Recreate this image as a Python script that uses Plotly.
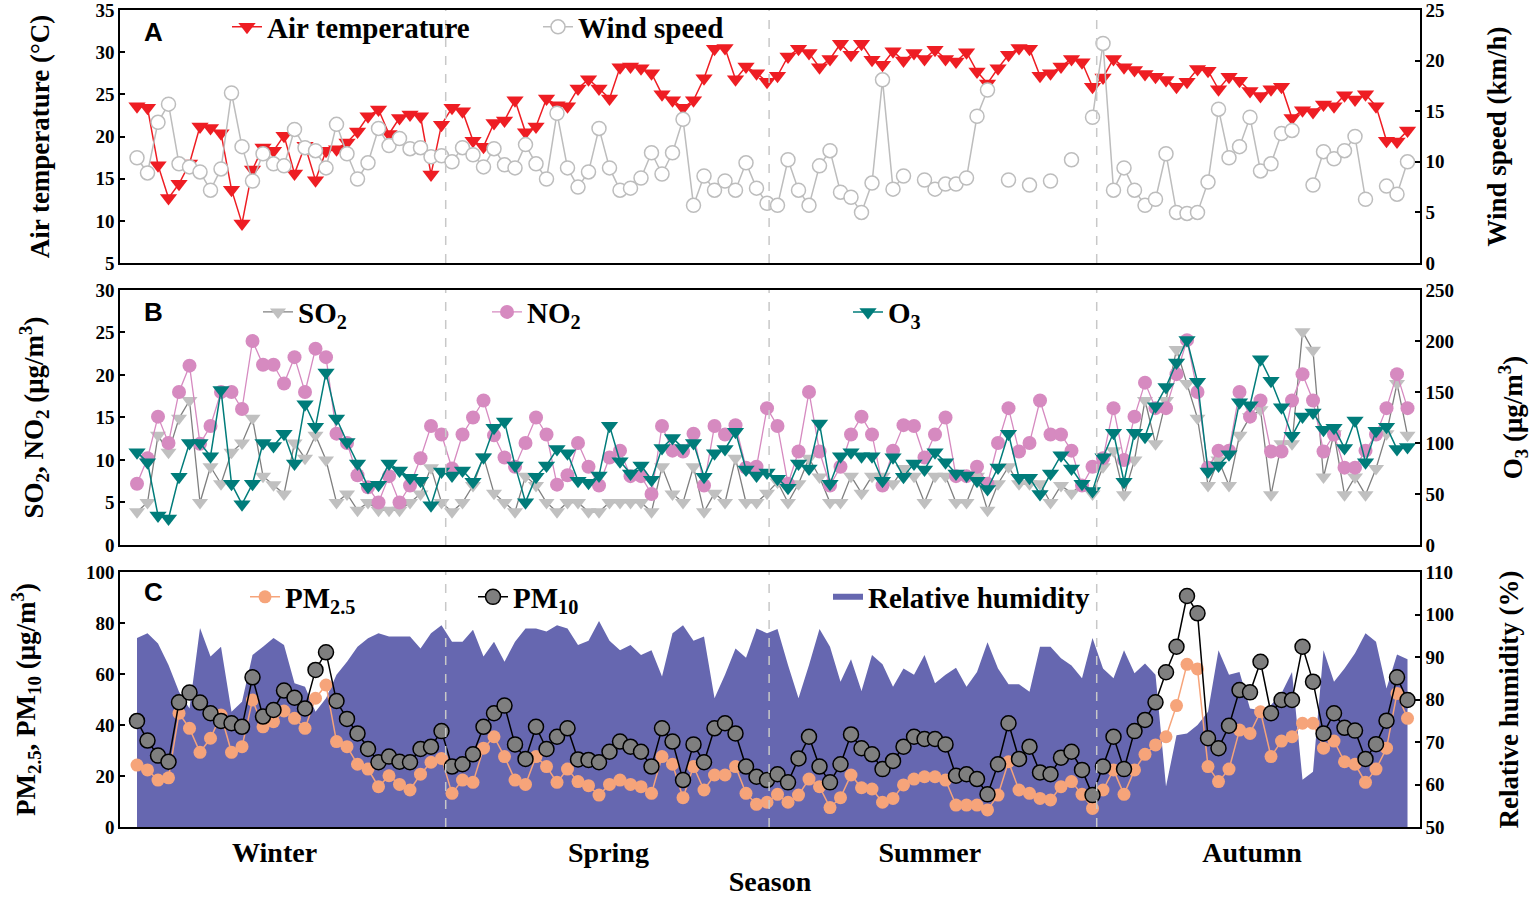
import plotly.graph_objects as go

# ---------------- data ----------------
day_index = list(range(122))

air_temperature = [
    23.6, 23.4, 16.6, 12.7, 14.4, 16.8, 21.2, 21.0, 20.4, 13.7, 9.7, 16.1, 18.7, 18.3, 20.1, 15.6, 18.9, 14.8, 18.3, 18.5,
    19.3, 20.6, 22.4, 23.2, 20.3, 22.2, 22.6, 22.4, 15.5, 21.4,
    23.4, 23.0, 19.5, 18.8, 21.6, 21.9, 24.3, 20.5, 21.2, 24.5, 23.7, 23.6, 25.7, 26.8, 25.7, 24.5, 28.2, 28.3, 28.1, 27.5,
    25.0, 24.3, 23.4, 24.3, 26.9, 30.4, 30.5, 26.8, 28.3, 27.5,
    26.5, 27.2, 29.5, 30.4, 29.9, 28.2, 29.2, 31.0, 29.7, 31.0, 29.1, 28.5, 30.1, 29.0, 29.9, 29.2, 30.3, 29.2, 28.9, 30.0,
    27.7, 26.3, 28.1, 29.7, 30.5, 30.4, 27.2, 27.5, 28.3, 29.2, 28.8,
    25.9, 27.0, 29.2, 28.2, 27.9, 27.4, 27.1, 26.7, 25.9, 26.5, 28.0, 27.8, 25.6, 27.1, 26.6, 25.4, 24.8, 25.6, 25.9, 22.2,
    23.1, 22.9, 23.8, 23.6, 24.9, 24.4, 25.0, 23.6, 19.5, 19.4, 20.7,
]

wind_speed = [
    10.4, 8.9, 13.9, 15.7, 9.8, 9.5, 9.0, 7.2, 9.3, 16.8, 11.5, 8.1, 10.8, 9.8, 9.6, 13.2, 11.4, 11.1, 9.4, 13.7,
    10.8, 8.3, 9.9, 13.3, 11.6, 12.3, 11.3, 11.4, 10.5, 10.6,
    10.0, 11.4, 10.7, 9.5, 11.3, 9.7, 9.4, 11.7, 9.8, 8.3, 14.8, 9.4, 7.5, 9.0, 13.3, 9.4, 7.2, 7.4, 8.4, 10.9,
    8.8, 10.9, 14.2, 5.7, 8.6, 7.2, 8.1, 7.2, 9.9, 7.4,
    5.9, 5.7, 10.2, 7.2, 5.7, 9.6, 11.1, 7.0, 6.5, 5.0, 7.9, 18.1, 7.3, 8.6, None, 8.2, 7.3, 7.8, 7.8, 8.4,
    14.5, 17.1, None, 8.2, None, 7.7, None, 8.1, None, 10.2, None,
    14.4, 21.7, 7.2, 9.4, 7.2, 5.7, 6.3, 10.8, 5.0, 4.9, 5.0, 8.0, 15.2, 10.4, 11.5, 14.4, 9.1, 9.8, 12.8, 13.1,
    None, 7.7, 11.0, 10.3, 11.1, 12.5, 6.3, None, 7.6, 6.8, 10.0,
]

so2 = [
    3.9, 5.0, 12.9, 10.9, 14.9, 17.0, 5.0, 9.2, 7.2, 10.9, 12.0, 14.9, 8.1, 7.1, 6.0, 12.0, 10.2, 12.9, 10.0, 5.0,
    6.0, 4.1, 5.0, 4.1, 4.1, 4.1, 5.0, 6.0, 9.1, 5.0,
    3.9, 5.0, 7.0, 10.4, 6.1, 5.0, 3.9, 8.1, 7.0, 5.0, 3.9, 5.0, 5.0, 3.9, 3.9, 5.0, 5.0, 5.0, 5.0, 3.9,
    9.2, 6.0, 5.0, 9.2, 3.9, 6.1, 5.0, 10.2, 5.0, 5.0,
    6.1, 7.4, 5.0, 7.2, 10.2, 8.0, 5.0, 5.0, 8.1, 6.1, 8.1, 8.1, 7.2, 9.0, 8.1, 5.0, 8.1, 8.1, 5.0, 5.0,
    8.1, 4.1, 7.2, 9.2, 7.2, 7.2, 7.2, 5.0, 7.0, 6.1, 7.2,
    6.0, 9.2, 11.1, 5.9, 10.0, 17.0, 11.9, 17.0, 23.0, 19.0, 14.9, 7.0, 10.0, 7.0, 12.9, 15.1, 15.9, 5.9, 11.9, 11.9,
    25.1, 22.9, 8.0, 13.1, 5.9, 8.0, 5.9, 9.0, 13.1, 19.0, 12.9,
]

no2 = [
    7.2, 10.2, 15.1, 12.0, 18.0, 21.1, 11.9, 14.0, 18.0, 18.0, 16.0, 24.0, 21.2, 21.2, 19.0, 22.1, 18.0, 23.1, 22.1, 13.1,
    12.0, 8.2, 6.8, 5.0, 8.1, 5.0, 7.0, 10.2, 14.0, 13.0,
    9.0, 13.0, 15.0, 17.0, 12.9, 10.3, 9.2, 12.0, 15.0, 13.0, 7.1, 8.2, 12.0, 9.2, 7.0, 10.3, 11.1, 8.1, 8.1, 6.0,
    14.0, 11.1, 11.0, 13.1, 7.0, 14.0, 13.0, 14.1, 9.1, 9.2,
    16.1, 14.0, 7.2, 11.0, 18.0, 11.0, 7.0, 9.2, 13.0, 15.1, 13.0, 7.0, 11.1, 14.1, 14.0, 10.3, 13.0, 15.0, 8.1, 8.1,
    9.2, 7.2, 12.0, 16.1, 11.0, 12.0, 17.0, 13.0, 13.0, 11.1, 7.0,
    9.2, 10.2, 16.1, 10.0, 15.1, 19.1, 16.1, 16.1, 20.1, 24.1, 18.0, 9.1, 11.1, 11.1, 18.0, 15.1, 17.0, 11.0, 11.0, 17.0,
    20.1, 17.0, 11.0, 13.0, 9.1, 9.1, 11.1, 13.0, 16.1, 20.1, 16.1,
]

o3 = [
    91, 81, 29, 26, 67, 100, 100, 87, 152, 60, 40, 60, 100, 97, 109, 80, 138, 116, 169, 124,
    101, 80, 57, 59, 80, 73, 66, 63, 39, 72,
    68, 73, 62, 86, 115, 121, 78, 42, 67, 78, 94, 90, 63, 61, 68, 117, 82, 70, 78, 64,
    95, 105, 95, 100, 67, 90, 94, 111, 74, 68,
    71, 65, 56, 80, 75, 119, 60, 87, 91, 87, 87, 63, 86, 67, 80, 74, 91, 81, 70, 68,
    63, 55, 76, 109, 66, 66, 50, 70, 88, 75, 60,
    53, 86, 110, 62, 110, 106, 136, 155, 179, 201, 160, 72, 78, 89, 140, 137, 182, 161, 135, 107,
    126, 130, 113, 115, 95, 122, 81, 112, 116, 94, 96,
]

relative_humidity = [
    94.5, 95.6, 93.2, 88.1, 81.8, 77.9, 96.8, 90.1, 92.4, 77.1, 79.5, 90.5, 92.4, 94.5, 92.8, 83.8, 83.0, 77.1, 80.3, 85.8,
    88.9, 92.4, 94.4, 95.6, 94.8, 94.8, 94.8, 92.0, 95.6, 97.5,
    93.6, 93.6, 96.4, 90.1, 93.6, 88.9, 93.6, 96.7, 96.7, 96.0, 97.5, 96.7, 92.8, 93.8, 98.5, 93.8, 91.6, 92.8, 90.5, 91.6,
    85.4, 95.6, 97.5, 93.8, 94.8, 80.3, 85.8, 92.0, 89.8, 96.7,
    95.6, 96.6, 88.1, 80.3, 88.1, 96.6, 92.4, 84.2, 89.5, 82.0, 90.5, 88.3, 83.0, 87.3, 85.8, 90.5, 83.8, 85.8, 87.5, 83.0,
    86.5, 93.5, 87.3, 83.6, 83.6, 81.8, 92.4, 92.4, 89.7, 88.0, 85.0,
    94.5, 87.3, 85.0, 91.6, 86.2, 88.5, 85.8, 59.5, 71.6, 72.0, 74.0, 77.1, 91.6, 85.8, 86.5, 77.9, 77.5, 78.7, 81.5, 86.5,
    61.1, 63.0, 91.6, 84.2, 87.3, 90.9, 95.6, 93.6, 82.6, 90.6, 89.5,
]

pm25 = [
    24.3, 22.4, 18.4, 19.3, 44.6, 38.7, 29.3, 34.8, 43.9, 29.3, 31.5, 49.8, 39.3, 41.3, 45.5, 42.6, 38.7, 50.5, 55.7, 33.5,
    31.5, 24.6, 22.7, 15.8, 20.1, 16.7, 14.5, 20.7, 25.4, 26.9,
    13.2, 18.4, 17.5, 30.9, 35.4, 27.6, 18.4, 16.7, 27.6, 23.7, 17.5, 22.7, 17.8, 16.2, 12.5, 16.7, 18.4, 16.7, 15.8, 13.2,
    27.6, 24.6, 11.5, 23.7, 14.5, 20.4, 20.4, 23.7, 13.2, 8.9,
    9.7, 12.8, 9.7, 12.5, 18.8, 15.8, 7.6, 11.5, 20.4, 15.4, 14.9, 9.7, 11.2, 16.5, 18.8, 19.7, 19.7, 18.4, 8.6, 8.6,
    8.6, 6.7, 12.5, 25.6, 14.5, 13.2, 11.2, 10.6, 15.8, 17.8, 12.8,
    7.3, 14.5, 22.4, 12.8, 22.4, 28.5, 32.2, 35.4, 47.6, 63.8, 62.0, 23.7, 17.8, 22.7, 38.0, 36.7, 45.2, 27.6, 33.7, 35.4,
    40.7, 40.7, 30.9, 33.7, 25.6, 24.6, 17.5, 22.7, 30.9, 52.4, 42.6,
]

pm10 = [
    41.6, 33.9, 28.0, 25.6, 48.9, 52.7, 48.8, 44.6, 41.6, 40.7, 39.3, 58.7, 43.3, 45.9, 53.5, 50.7, 46.5, 61.6, 68.5, 49.4,
    42.4, 36.7, 30.6, 25.4, 27.6, 25.6, 25.4, 30.6, 31.5, 37.6,
    23.7, 24.6, 28.5, 39.3, 44.6, 47.6, 32.4, 26.7, 39.3, 30.6, 35.4, 38.7, 26.5, 26.3, 25.4, 29.5, 33.5, 31.5, 29.5, 23.7,
    38.7, 33.5, 18.4, 32.4, 25.4, 38.7, 40.7, 36.7, 23.7, 19.7,
    18.4, 20.7, 17.5, 26.9, 35.4, 23.7, 17.5, 24.6, 36.3, 30.9, 28.5, 22.7, 25.9, 31.5, 35.4, 34.5, 34.5, 32.4, 20.1, 20.7,
    18.8, 12.8, 24.6, 40.7, 26.7, 31.5, 21.4, 20.7, 27.2, 29.5, 22.4,
    12.5, 23.7, 35.4, 22.7, 37.6, 42.0, 48.9, 60.7, 70.7, 90.6, 83.8, 34.8, 30.9, 39.7, 53.7, 52.8, 64.8, 44.6, 49.8, 49.8,
    70.7, 57.0, 36.7, 44.6, 38.9, 37.8, 26.7, 32.5, 41.7, 58.7, 49.8,
]

season_labels = ["Winter", "Spring", "Summer", "Autumn"]
season_label_pos = [13.1, 44.9, 75.5, 106.2]
season_boundaries = [29.4, 60.2, 91.4]

# ---------------- styling ----------------
SERIF = "Liberation Serif"
SANS = "Liberation Sans"
X_RANGE = [-1.62, 122.19]
TICKF = dict(family=SERIF, size=19, color="black", weight="bold")
TITLEF = dict(family=SERIF, size=27, color="black", weight="bold")
LEGF = dict(family=SERIF, size=29, color="black", weight="bold")

fig = go.Figure()

# Panel A
fig.add_trace(go.Scatter(
    x=day_index, y=air_temperature, name="Air temperature", mode="lines+markers",
    line=dict(color="#EE1D23", width=1.5),
    marker=dict(symbol="triangle-down", size=15, color="#EE1D23"),
    xaxis="x", yaxis="y", legend="legend"))
fig.add_trace(go.Scatter(
    x=day_index, y=wind_speed, name="Wind speed", mode="lines+markers", connectgaps=False,
    line=dict(color="#BDBDBD", width=1.5),
    marker=dict(symbol="circle", size=14, color="white", line=dict(color="#BDBDBD", width=1.5)),
    xaxis="x", yaxis="y2", legend="legend2"))

# Panel B
fig.add_trace(go.Scatter(
    x=day_index, y=so2, name="SO<sub>2</sub>", mode="lines+markers",
    line=dict(color="#7F7F7F", width=1.3),
    marker=dict(symbol="triangle-down", size=14, color="#C0C0C0"),
    xaxis="x2", yaxis="y3", legend="legend3"))
fig.add_trace(go.Scatter(
    x=day_index, y=no2, name="NO<sub>2</sub>", mode="lines+markers",
    line=dict(color="#D68AC0", width=1.3),
    marker=dict(symbol="circle", size=14, color="#D68AC0"),
    xaxis="x2", yaxis="y3", legend="legend4"))
fig.add_trace(go.Scatter(
    x=day_index, y=o3, name="O<sub>3</sub>", mode="lines+markers",
    line=dict(color="#007C7A", width=1.5),
    marker=dict(symbol="triangle-down", size=15, color="#007C7A"),
    xaxis="x2", yaxis="y4", legend="legend5"))

# Panel C
fig.add_trace(go.Scatter(
    x=day_index, y=relative_humidity, name="Relative humidity", mode="none",
    fill="tozeroy", fillcolor="#6667B0",
    xaxis="x3", yaxis="y5", legend="legend8"))
fig.add_trace(go.Scatter(
    x=day_index, y=pm25, name="PM<sub>2.5</sub>", mode="lines+markers",
    line=dict(color="#F6A47A", width=1.5),
    marker=dict(symbol="circle", size=13, color="#F6A47A"),
    xaxis="x3", yaxis="y6", legend="legend6"))
fig.add_trace(go.Scatter(
    x=day_index, y=pm10, name="PM<sub>10</sub>", mode="lines+markers",
    line=dict(color="black", width=1.5),
    marker=dict(symbol="circle", size=15, color="#7F7F7F", line=dict(color="black", width=1.5)),
    xaxis="x3", yaxis="y6", legend="legend7"))


def xax(anchor, labels=False):
    d = dict(domain=[0, 1], anchor=anchor, range=X_RANGE, showline=True, mirror=True,
             linecolor="black", linewidth=1.5, showgrid=False, zeroline=False, ticks="",
             automargin=False)
    if labels:
        d.update(tickmode="array", tickvals=season_label_pos, ticktext=season_labels,
                 ticklabelstandoff=0,
                 tickfont=dict(family=SERIF, size=28, color="black", weight="bold"),
                 title=dict(text="Season", font=dict(family=SERIF, size=28, color="black", weight="bold"),
                            standoff=27))
    else:
        d.update(showticklabels=False)
    return d


def yax(rng, dtick, title, side, standoff, domain=None, anchor=None, overlaying=None):
    d = dict(range=rng, dtick=dtick, tick0=rng[0], side=side, showline=True, linecolor="black",
             linewidth=1.5, showgrid=False, zeroline=False, ticks="inside", ticklen=5,
             tickcolor="black", tickwidth=1.5, tickfont=TICKF, automargin=False,
             ticklabeloverflow="allow",
             title=dict(text=title, font=TITLEF, standoff=standoff))
    if domain is not None:
        d["domain"] = domain
    if anchor is not None:
        d["anchor"] = anchor
    if overlaying is not None:
        d["overlaying"] = overlaying
    return d


dom_a = [0.6903, 1.0]
dom_b = [0.3452, 0.6573]
dom_c = [0.0, 0.3121]


def legend_at(text_px, py):
    return dict(x=(text_px - 40 - 120) / 1300, y=py, xanchor="left", yanchor="middle",
                orientation="h", bgcolor="rgba(0,0,0,0)", font=LEGF, itemwidth=30,
                borderwidth=0)


shapes = []
for xref, yref in [("x", "y domain"), ("x2", "y3 domain"), ("x3", "y5 domain")]:
    for b in season_boundaries:
        shapes.append(dict(type="line", xref=xref, yref=yref, x0=b, x1=b, y0=0, y1=1,
                           line=dict(color="#C8C8C8", width=1.5, dash="dash"), layer="above"))

annotations = []
for letter, yy in [("A", 0.9731), ("B", 0.6303), ("C", 0.2876)]:
    annotations.append(dict(text=letter, x=(153 - 120) / 1300, y=yy, xref="paper", yref="paper",
                            xanchor="center", yanchor="middle", showarrow=False,
                            font=dict(family=SANS, size=26, color="black", weight="bold")))

fig.update_layout(
    width=1535, height=897,
    margin=dict(l=120, r=115, t=10, b=70, autoexpand=False),
    paper_bgcolor="white", plot_bgcolor="white",
    xaxis=xax("y"),
    xaxis2=xax("y3"),
    xaxis3=xax("y5", labels=True),
    yaxis=yax([5, 35], 5, "Air temperature (°C)", "left", 38, dom_a, "x"),
    yaxis2=yax([0, 25], 5, "Wind speed (km/h)", "right", 44, None, "x", "y"),
    yaxis3=yax([0, 30], 5, "SO<sub>2</sub>, NO<sub>2</sub> (μg/m<sup>3</sup>)", "left", 44, dom_b, "x2"),
    yaxis4=yax([0, 250], 50, "O<sub>3</sub> (μg/m<sup>3</sup>)", "right", 50, None, "x2", "y3"),
    yaxis5=yax([50, 110], 10, "Relative humidity (%)", "right", 46, dom_c, "x3"),
    yaxis6=yax([0, 100], 20, "PM<sub>2.5</sub>, PM<sub>10</sub> (μg/m<sup>3</sup>)", "left", 42, None, "x3", "y5"),
    legend=legend_at(267, 0.9792),
    legend2=legend_at(578, 0.9792),
    legend3=legend_at(298, 0.6303),
    legend4=legend_at(527, 0.6303),
    legend5=legend_at(888, 0.6303),
    legend6=legend_at(285, 0.2815),
    legend7=legend_at(513, 0.2815),
    legend8=legend_at(868, 0.2815),
    shapes=shapes,
    annotations=annotations,
    showlegend=True,
)

fig.write_html("out.html", config={"displayModeBar": False},
               post_script="document.body.style.margin='0';")
